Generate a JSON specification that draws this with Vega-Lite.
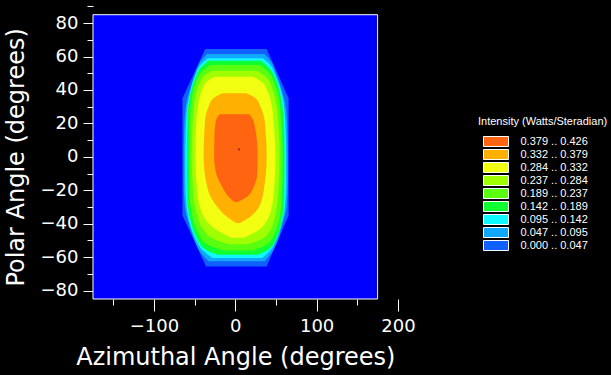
{
"$schema": "https://vega.github.io/schema/vega-lite/v6.json",
"width": 309, "height": 296,
"autosize": {"type": "none"},
"padding": {"left": 93, "top": 3, "right": 209, "bottom": 76},
"background": "#000000",
"config": {
  "view": {"fill": null, "stroke": null},
  "axis": {"grid": false, "domain": false, "tickColor": "#FFFFFF", "labelColor": "#FFFFFF", "titleColor": "#FFFFFF", "labelFont": "DejaVu Sans", "titleFont": "DejaVu Sans", "labelFontSize": 18, "titleFontSize": 24, "titleFontWeight": "normal", "labelFontWeight": "normal", "tickWidth": 1, "labelFlush": false, "labelOverlap": false}
},
"datasets": {
  "frame": [{"x1": -175, "x2": 175, "y1": -85, "y2": 85}],
  "contours": [
    {"band": "0.000 .. 0.047", "y": 64.5, "xl": -37, "xr": 38.5},
    {"band": "0.000 .. 0.047", "y": 35, "xl": -65, "xr": 65.5},
    {"band": "0.000 .. 0.047", "y": -35, "xl": -65, "xr": 65.5},
    {"band": "0.000 .. 0.047", "y": -65.5, "xl": -36, "xr": 38.5},

    {"band": "0.047 .. 0.095", "y": 61.5, "xl": -35, "xr": 36},
    {"band": "0.047 .. 0.095", "y": 57, "xl": -43, "xr": 44},
    {"band": "0.047 .. 0.095", "y": 50, "xl": -49, "xr": 50},
    {"band": "0.047 .. 0.095", "y": 40, "xl": -56, "xr": 57},
    {"band": "0.047 .. 0.095", "y": 30, "xl": -61, "xr": 62},
    {"band": "0.047 .. 0.095", "y": 15, "xl": -63, "xr": 64},
    {"band": "0.047 .. 0.095", "y": 0, "xl": -63.5, "xr": 64.5},
    {"band": "0.047 .. 0.095", "y": -15, "xl": -63.5, "xr": 64.5},
    {"band": "0.047 .. 0.095", "y": -30, "xl": -62, "xr": 63},
    {"band": "0.047 .. 0.095", "y": -40, "xl": -57, "xr": 58},
    {"band": "0.047 .. 0.095", "y": -50, "xl": -50, "xr": 52},
    {"band": "0.047 .. 0.095", "y": -57, "xl": -43, "xr": 45},
    {"band": "0.047 .. 0.095", "y": -62.5, "xl": -33, "xr": 36},

    {"band": "0.095 .. 0.142", "y": 59, "xl": -34, "xr": 34},
    {"band": "0.095 .. 0.142", "y": 55, "xl": -43, "xr": 43},
    {"band": "0.095 .. 0.142", "y": 48, "xl": -50, "xr": 50},
    {"band": "0.095 .. 0.142", "y": 40, "xl": -55, "xr": 56},
    {"band": "0.095 .. 0.142", "y": 30, "xl": -59, "xr": 60},
    {"band": "0.095 .. 0.142", "y": 15, "xl": -61, "xr": 62},
    {"band": "0.095 .. 0.142", "y": 0, "xl": -61.5, "xr": 62.5},
    {"band": "0.095 .. 0.142", "y": -15, "xl": -61.5, "xr": 62.5},
    {"band": "0.095 .. 0.142", "y": -30, "xl": -60, "xr": 61},
    {"band": "0.095 .. 0.142", "y": -40, "xl": -56, "xr": 57},
    {"band": "0.095 .. 0.142", "y": -50, "xl": -48, "xr": 50},
    {"band": "0.095 .. 0.142", "y": -56, "xl": -40, "xr": 43},
    {"band": "0.095 .. 0.142", "y": -60.5, "xl": -28, "xr": 33},

    {"band": "0.142 .. 0.189", "y": 57.5, "xl": -33, "xr": 32},
    {"band": "0.142 .. 0.189", "y": 53, "xl": -43, "xr": 42},
    {"band": "0.142 .. 0.189", "y": 46, "xl": -50, "xr": 50},
    {"band": "0.142 .. 0.189", "y": 38, "xl": -55, "xr": 55},
    {"band": "0.142 .. 0.189", "y": 25, "xl": -58.5, "xr": 59},
    {"band": "0.142 .. 0.189", "y": 0, "xl": -59.5, "xr": 60.5},
    {"band": "0.142 .. 0.189", "y": -25, "xl": -59, "xr": 60},
    {"band": "0.142 .. 0.189", "y": -38, "xl": -55, "xr": 57},
    {"band": "0.142 .. 0.189", "y": -48, "xl": -48, "xr": 51},
    {"band": "0.142 .. 0.189", "y": -55, "xl": -38, "xr": 42},
    {"band": "0.142 .. 0.189", "y": -58.5, "xl": -22, "xr": 28},

    {"band": "0.189 .. 0.237", "y": 55, "xl": -31, "xr": 30},
    {"band": "0.189 .. 0.237", "y": 51, "xl": -41, "xr": 40},
    {"band": "0.189 .. 0.237", "y": 44, "xl": -49, "xr": 48},
    {"band": "0.189 .. 0.237", "y": 35, "xl": -53.5, "xr": 53.5},
    {"band": "0.189 .. 0.237", "y": 20, "xl": -56, "xr": 56.5},
    {"band": "0.189 .. 0.237", "y": 0, "xl": -57, "xr": 58},
    {"band": "0.189 .. 0.237", "y": -20, "xl": -56.5, "xr": 57.5},
    {"band": "0.189 .. 0.237", "y": -35, "xl": -53, "xr": 55},
    {"band": "0.189 .. 0.237", "y": -45, "xl": -46, "xr": 49},
    {"band": "0.189 .. 0.237", "y": -52, "xl": -36, "xr": 40},
    {"band": "0.189 .. 0.237", "y": -56, "xl": -15, "xr": 22},

    {"band": "0.237 .. 0.284", "y": 51.5, "xl": -29, "xr": 27},
    {"band": "0.237 .. 0.284", "y": 48, "xl": -39, "xr": 37},
    {"band": "0.237 .. 0.284", "y": 40, "xl": -47, "xr": 46},
    {"band": "0.237 .. 0.284", "y": 30, "xl": -51, "xr": 51},
    {"band": "0.237 .. 0.284", "y": 15, "xl": -53, "xr": 53.5},
    {"band": "0.237 .. 0.284", "y": 0, "xl": -53.5, "xr": 54.5},
    {"band": "0.237 .. 0.284", "y": -20, "xl": -52, "xr": 53},
    {"band": "0.237 .. 0.284", "y": -33, "xl": -48, "xr": 50},
    {"band": "0.237 .. 0.284", "y": -43, "xl": -40, "xr": 44},
    {"band": "0.237 .. 0.284", "y": -49, "xl": -27, "xr": 33},
    {"band": "0.237 .. 0.284", "y": -52.3, "xl": -8, "xr": 15},

    {"band": "0.284 .. 0.332", "y": 47.9, "xl": -26, "xr": 22},
    {"band": "0.284 .. 0.332", "y": 45, "xl": -35, "xr": 32},
    {"band": "0.284 .. 0.332", "y": 40, "xl": -41, "xr": 39},
    {"band": "0.284 .. 0.332", "y": 30, "xl": -46, "xr": 45},
    {"band": "0.284 .. 0.332", "y": 15, "xl": -48.5, "xr": 48},
    {"band": "0.284 .. 0.332", "y": 0, "xl": -49, "xr": 49.5},
    {"band": "0.284 .. 0.332", "y": -20, "xl": -47, "xr": 47.5},
    {"band": "0.284 .. 0.332", "y": -30, "xl": -43.5, "xr": 45},
    {"band": "0.284 .. 0.332", "y": -38, "xl": -36, "xr": 39},
    {"band": "0.284 .. 0.332", "y": -44, "xl": -22, "xr": 28},
    {"band": "0.284 .. 0.332", "y": -48.3, "xl": -5, "xr": 10},

    {"band": "0.332 .. 0.379", "y": 38, "xl": -16, "xr": 14},
    {"band": "0.332 .. 0.379", "y": 35, "xl": -27, "xr": 25},
    {"band": "0.332 .. 0.379", "y": 30, "xl": -33, "xr": 31},
    {"band": "0.332 .. 0.379", "y": 20, "xl": -37.5, "xr": 36.5},
    {"band": "0.332 .. 0.379", "y": 0, "xl": -39, "xr": 38.6},
    {"band": "0.332 .. 0.379", "y": -20, "xl": -33.5, "xr": 35},
    {"band": "0.332 .. 0.379", "y": -30, "xl": -22, "xr": 29},
    {"band": "0.332 .. 0.379", "y": -36, "xl": -10, "xr": 18},
    {"band": "0.332 .. 0.379", "y": -39.5, "xl": 1, "xr": 6},

    {"band": "0.379 .. 0.426", "y": 25.5, "xl": -19, "xr": 17},
    {"band": "0.379 .. 0.426", "y": 23, "xl": -23, "xr": 21},
    {"band": "0.379 .. 0.426", "y": 18, "xl": -25, "xr": 24},
    {"band": "0.379 .. 0.426", "y": 10, "xl": -25.8, "xr": 26.5},
    {"band": "0.379 .. 0.426", "y": 0, "xl": -26, "xr": 27.5},
    {"band": "0.379 .. 0.426", "y": -10, "xl": -23.5, "xr": 27},
    {"band": "0.379 .. 0.426", "y": -18, "xl": -16, "xr": 22.5},
    {"band": "0.379 .. 0.426", "y": -24, "xl": -8, "xr": 14},
    {"band": "0.379 .. 0.426", "y": -27, "xl": -1, "xr": 3}
  ],
  "peak": [{"x": 4.5, "y": 4.5}]
},
"layer": [
  {
    "data": {"name": "frame"},
    "mark": {"type": "rect", "fill": "#0000FF", "stroke": "#FFFFFF", "strokeWidth": 1},
    "encoding": {
      "x": {"field": "x1", "type": "quantitative", "scale": {"domain": [-175, 205], "nice": false, "zero": false},
        "title": "Azimuthal Angle (degrees)",
        "axis": {"title": "Azimuthal Angle (degrees)", "values": [-150,-100,-50,0,50,100,150,200], "tickCount": 100,
          "labelExpr": "datum.value % 100 === 0 ? datum.label : ''",
          "labelFontSize": {"condition": {"test": "datum.value % 100 === 0", "value": 18}, "value": 1},
          "tickSize": {"condition": {"test": "datum.value % 100 === 0", "value": 12}, "value": 6},
          "labelOverlap": false, "labelFlush": false, "labelPadding": 6, "titlePadding": 10, "titleX": 142.3}},
      "x2": {"field": "x2"},
      "y": {"field": "y1", "type": "quantitative", "scale": {"domain": [-85, 92], "nice": false, "zero": false},
        "title": "Polar Angle (degrees)",
        "axis": {"title": "Polar Angle (degrees)", "values": [-80,-70,-60,-50,-40,-30,-20,-10,0,10,20,30,40,50,60,70,80,90], "tickCount": 100,
          "labelExpr": "(datum.value % 20 === 0 && datum.value !== 90) ? datum.label : ''",
          "labelFontSize": {"condition": {"test": "datum.value % 20 === 0 && datum.value !== 90", "value": 18}, "value": 1},
          "tickSize": {"condition": {"test": "datum.value % 20 === 0", "value": 10}, "value": 6},
          "labelOverlap": false, "labelPadding": 5, "titlePadding": 12, "titleY": 153.9}},
      "y2": {"field": "y2"}
    }
  },
  {
    "data": {"name": "contours"},
    "transform": [{"filter": "datum.band === '0.000 .. 0.047'"}],
    "mark": {"type": "area", "orient": "horizontal", "interpolate": "linear"},
    "encoding": {
      "y": {"field": "y", "type": "quantitative", "title": "Polar Angle (degrees)"},
      "x": {"field": "xl", "type": "quantitative", "stack": null, "title": "Azimuthal Angle (degrees)"},
      "x2": {"field": "xr"},
      "color": {"field": "band", "type": "nominal",
        "scale": {"domain": ["0.379 .. 0.426","0.332 .. 0.379","0.284 .. 0.332","0.237 .. 0.284","0.189 .. 0.237","0.142 .. 0.189","0.095 .. 0.142","0.047 .. 0.095","0.000 .. 0.047"],
                  "range": ["#FF6410","#FFB000","#F2FF10","#A0FF00","#5AFF10","#10FF30","#10F8FF","#10A8FF","#1060FF"]},
        "legend": {"orient": "none", "legendX": 385, "legendY": 113, "title": "Intensity (Watts/Steradian)",
          "titleColor": "#FFFFFF", "titleFont": "Liberation Sans", "titleFontSize": 11, "titleFontWeight": "normal", "titlePadding": 9,
          "labelColor": "#FFFFFF", "labelFont": "Liberation Sans", "labelFontSize": 11,
          "symbolType": "M-2.5,-1L2.5,-1L2.5,1L-2.5,1Z", "symbolSize": 100, "symbolOffset": 12.5, "labelOffset": 19,
          "rowPadding": -2.5, "padding": 0, "symbolStrokeColor": "#FFFFFF", "symbolStrokeWidth": 1, "symbolOpacity": 1,
          "encode": {"symbols": {"update": {"stroke": {"value": "#FFFFFF"}, "strokeWidth": {"value": 1}}}}}}
    }
  },
  {
    "data": {"name": "contours"},
    "transform": [{"filter": "datum.band !== '0.000 .. 0.047'"}],
    "mark": {"type": "area", "orient": "horizontal", "interpolate": "monotone"},
    "encoding": {
      "y": {"field": "y", "type": "quantitative", "title": "Polar Angle (degrees)"},
      "x": {"field": "xl", "type": "quantitative", "stack": null, "title": "Azimuthal Angle (degrees)"},
      "x2": {"field": "xr"},
      "color": {"field": "band", "type": "nominal"}
    }
  },
  {
    "data": {"name": "peak"},
    "mark": {"type": "square", "size": 3, "color": "#802000", "opacity": 1},
    "encoding": {
      "x": {"field": "x", "type": "quantitative", "title": "Azimuthal Angle (degrees)"},
      "y": {"field": "y", "type": "quantitative", "title": "Polar Angle (degrees)"}
    }
  }
]
}
